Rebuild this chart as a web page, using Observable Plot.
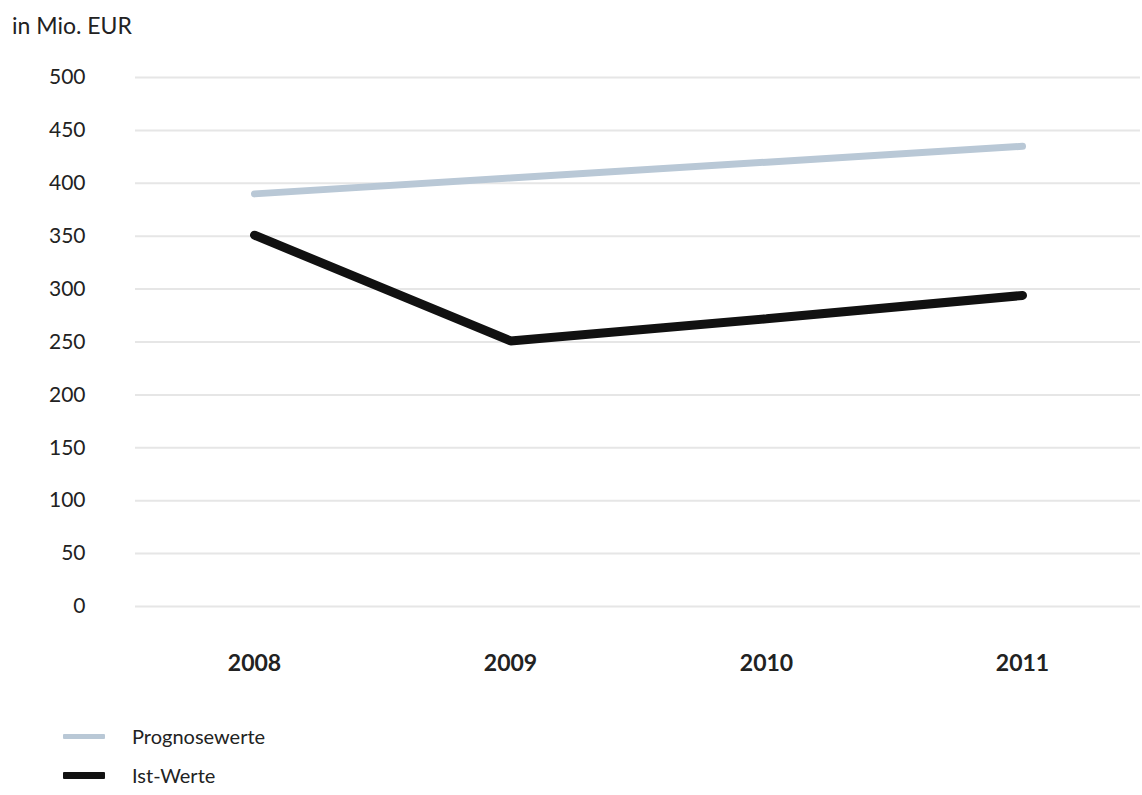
<!DOCTYPE html>
<html>
<head>
<meta charset="utf-8">
<script src="https://cdn.jsdelivr.net/npm/d3@7"></script>
<script src="https://cdn.jsdelivr.net/npm/@observablehq/plot@0.6"></script>
<style>
  body { margin: 0; background: #fff; font-family: Lato, "Open Sans", sans-serif; color: #222; }
  #unit { height: 50px; padding-left: 12px; font-size: 23px; line-height: 50px; }
  #legend { position: relative; height: 105px; font-size: 20px; }
  .item { position: absolute; left: 63px; display: flex; align-items: center; }
  .swatch { width: 42px; margin-right: 27px; border-radius: 1px; }
</style>
</head>
<body>
<div id="unit">in Mio. EUR</div>
<div id="chart"></div>
<div id="legend"></div>
<script>
const years = [2008, 2009, 2010, 2011];
const prognosewerte = [390, 405, 420, 435];
const istWerte = [351, 251, 272, 294];
const yTicks = [0, 50, 100, 150, 200, 250, 300, 350, 400, 450, 500];

const series = [
  {name: "Prognosewerte", values: prognosewerte, color: "#b9c8d6", width: 7},
  {name: "Ist-Werte", values: istWerte, color: "#111111", width: 9}
];

const rows = series.flatMap(s => years.map((year, i) => ({series: s.name, year, value: s.values[i]})));

const chart = Plot.plot({
  width: 1142,
  height: 640,
  marginTop: 27,
  marginBottom: 84,
  marginLeft: 135,
  marginRight: 2,
  style: {fontFamily: "Lato, 'Open Sans', sans-serif", fontSize: "21px", color: "#222", background: "#fff"},
  x: {type: "point", domain: years, padding: 0.46, label: null},
  y: {domain: [0, 500], ticks: yTicks, label: null},
  marks: [
    Plot.gridY(yTicks, {stroke: "#e6e6e6", strokeOpacity: 1, strokeWidth: 2}),
    Plot.axisY({ticks: yTicks, tickSize: 0, tickPadding: 50, label: null, fontSize: 21}),
    Plot.axisX({tickSize: 0, tickPadding: 48, label: null, fontSize: 23, fontWeight: "bold", tickFormat: d => String(d)}),
    ...series.map(s => Plot.line(rows.filter(r => r.series === s.name), {
      x: "year", y: "value", stroke: s.color, strokeWidth: s.width,
      strokeLinecap: "round", strokeLinejoin: "miter"
    }))
  ]
});
document.getElementById("chart").appendChild(chart);

const legend = document.getElementById("legend");
series.forEach((s, i) => {
  const item = document.createElement("div");
  item.className = "item";
  item.style.top = (i === 0 ? 46 : 85) - 12 + "px";
  item.style.height = "24px";
  const sw = document.createElement("span");
  sw.className = "swatch";
  sw.style.height = (i === 0 ? 5 : 7) + "px";
  sw.style.background = s.color;
  const label = document.createElement("span");
  label.textContent = s.name;
  item.append(sw, label);
  legend.appendChild(item);
});
</script>
</body>
</html>
